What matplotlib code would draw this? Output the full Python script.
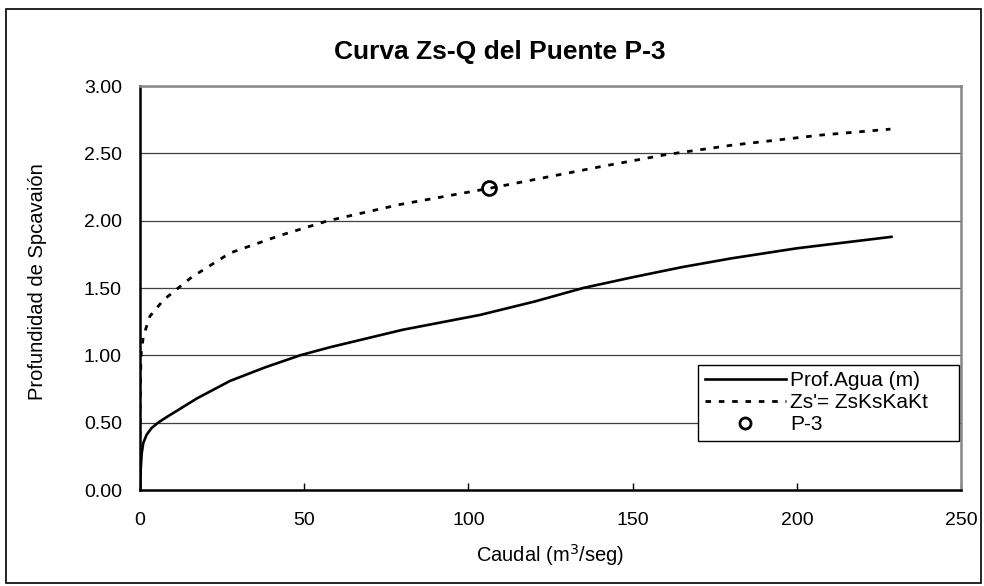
import matplotlib
import matplotlib.pyplot as plt
from matplotlib.lines import Line2D
from matplotlib.patches import Rectangle

matplotlib.use("Agg")

plt.rcParams["font.family"] = ["Liberation Sans", "DejaVu Sans"]

# Prof. Agua (m) vs caudal
caudal_agua = [0, 0.2, 0.5, 1.0, 2.0, 3.5, 5.5, 8, 12, 17.3, 27.4, 38, 48.7,
               57.8, 80, 103.5, 120.2, 134.9, 150, 165, 180, 200, 228.8]
prof_agua = [0, 0.15, 0.27, 0.35, 0.41, 0.46, 0.50, 0.54, 0.60, 0.68, 0.81,
             0.91, 1.00, 1.06, 1.19, 1.30, 1.40, 1.50, 1.58, 1.655, 1.72,
             1.795, 1.88]

# Zs' = ZsKsKaKt vs caudal
caudal_zs = [0, 0, 0.3, 1.0, 3.0, 7.1, 10.1, 15.7, 27.4, 42.6, 57.3, 79.1,
             106.3, 140, 160, 180, 207, 228.5]
prof_zs = [0, 0.6, 1.0, 1.14, 1.29, 1.41, 1.47, 1.58, 1.76, 1.89, 2.00, 2.12,
           2.24, 2.40, 2.49, 2.56, 2.635, 2.68]

# punto del puente P-3
caudal_p3 = [106.3]
prof_p3 = [2.24]

y_ticks = [0.0, 0.5, 1.0, 1.5, 2.0, 2.5, 3.0]
x_ticks = [0, 50, 100, 150, 200, 250]


def main() -> None:
    fig = plt.figure(figsize=(9.84, 5.86), dpi=100)
    ax = fig.add_axes([0.1423, 0.1638, 0.8344, 0.6894])

    for y in y_ticks[1:]:
        ax.axhline(y, color="#404040", lw=0.9, zorder=1)

    ax.plot(caudal_agua, prof_agua, color="black", lw=1.9, zorder=3)
    ax.plot(caudal_zs, prof_zs, color="black", lw=2.0,
            linestyle=(0, (2, 2.8)), zorder=3)
    ax.plot(caudal_p3, prof_p3, linestyle="none", marker="o", markersize=10,
            markerfacecolor="none", markeredgecolor="black",
            markeredgewidth=2, zorder=4)

    ax.set_xlim(0, 250)
    ax.set_ylim(0, 3)
    ax.set_xticks(x_ticks)
    ax.set_yticks(y_ticks)
    ax.set_yticklabels([f"{v:.2f}" for v in y_ticks])
    ax.tick_params(axis="x", direction="in", length=5, width=1, pad=16,
                   labelsize=14)
    ax.tick_params(axis="y", direction="in", length=0, pad=13, labelsize=14)

    for side in ("left", "bottom"):
        ax.spines[side].set_color("black")
        ax.spines[side].set_linewidth(1.8)
    for side in ("top", "right"):
        ax.spines[side].set_color("#888888")
        ax.spines[side].set_linewidth(1.8)

    handles = [
        Line2D([], [], color="black", lw=1.9),
        Line2D([], [], color="black", lw=2.0, linestyle=(0, (2, 2.8))),
        Line2D([], [], linestyle="none", marker="o", markersize=8,
               markerfacecolor="none", markeredgecolor="black",
               markeredgewidth=2),
    ]
    labels = ["Prof.Agua (m)", "Zs'= ZsKsKaKt", "P-3"]
    leg = ax.legend(handles, labels, loc="lower left",
                    bbox_to_anchor=(0.68, 0.122, 0.318, 0.238), mode="expand",
                    fontsize=15, handlelength=3.9, handletextpad=0.2,
                    borderpad=0.3, labelspacing=0.15, fancybox=False,
                    framealpha=1, edgecolor="black", borderaxespad=0)
    leg.get_frame().set_linewidth(1.0)

    fig.text(0.508, 0.911, "Curva Zs-Q del Puente P-3", ha="center",
             va="center", fontsize=19, fontweight="bold")
    fig.text(0.038, 0.52, "Profundidad de Spcavaión", rotation=90,
             ha="center", va="center", fontsize=14.5)
    fig.text(0.559, 0.053, r"Caudal (m$^3$/seg)", ha="center", va="center",
             fontsize=14.5)

    fig.patches.append(Rectangle((0.006, 0.005), 0.991, 0.9795,
                                 transform=fig.transFigure, fill=False,
                                 edgecolor="black", lw=1.2))

    fig.savefig("out.png", dpi=100)
    plt.close(fig)


if __name__ == "__main__":
    main()
